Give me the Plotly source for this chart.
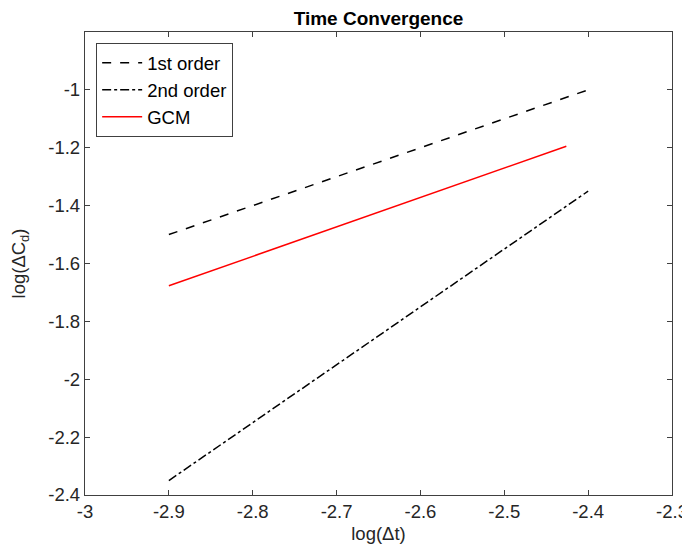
import plotly.graph_objects as go

first_x = [-2.9, -2.4]
first_y = [-1.5, -1.0]
second_x = [-2.9, -2.4]
second_y = [-2.35, -1.35]
gcm_x = [-2.9, -2.426]
gcm_y = [-1.677, -1.195]

x_ticks = [-3, -2.9, -2.8, -2.7, -2.6, -2.5, -2.4, -2.3]
x_labels = ["-3", "-2.9", "-2.8", "-2.7", "-2.6", "-2.5", "-2.4", "-2.3"]
y_ticks = [-2.4, -2.2, -2.0, -1.8, -1.6, -1.4, -1.2, -1.0]
y_labels = ["-2.4", "-2.2", "-2", "-1.8", "-1.6", "-1.4", "-1.2", "-1"]

font = "Liberation Sans, Arial, Helvetica, sans-serif"
axcol = "#262626"
fs = 18.5

fig = go.Figure()
fig.add_trace(go.Scatter(x=first_x, y=first_y, mode="lines", name="1st order",
                         line=dict(color="black", width=1.5, dash="dash")))
fig.add_trace(go.Scatter(x=second_x, y=second_y, mode="lines", name="2nd order",
                         line=dict(color="black", width=1.5, dash="dashdot")))
fig.add_trace(go.Scatter(x=gcm_x, y=gcm_y, mode="lines", name="GCM",
                         line=dict(color="#ff0000", width=1.5)))

axis_common = dict(showgrid=False, zeroline=False, showline=True, linecolor="#404040",
                   linewidth=1.3, mirror="ticks", ticks="inside", ticklen=5,
                   tickcolor="#404040", tickfont=dict(size=fs, color=axcol, family=font))

W, H = 682, 540  # page body has an 8px margin

fig.update_layout(
    width=W, height=H,
    margin=dict(l=77, r=18, t=24, b=53, autoexpand=False),
    paper_bgcolor="white", plot_bgcolor="white",
    font=dict(family=font, color=axcol),
    title=dict(text="<b>Time Convergence</b>", x=0.5, xanchor="center",
               xref="paper", y=1 - 10 / H, yref="container", yanchor="middle",
               font=dict(size=19, color="black", family=font)),
    xaxis=dict(range=[-3, -2.3], tickvals=x_ticks, ticktext=x_labels, automargin=False,
               title=dict(text="log(Δt)", font=dict(size=fs, color=axcol, family=font), standoff=5),
               **axis_common),
    yaxis=dict(range=[-2.4, -0.8], tickvals=y_ticks, ticktext=y_labels, automargin=False,
               title=dict(text="log(ΔC<sub>d</sub>)", font=dict(size=fs, color=axcol, family=font), standoff=19),
               **axis_common),
    legend=dict(x=0.019, y=0.976, xanchor="left", yanchor="top",
                bgcolor="white", bordercolor="#404040", borderwidth=1,
                font=dict(size=fs, color="black", family=font),
                tracegroupgap=0, itemwidth=40),
    showlegend=True,
)

fig.write_html("out.html")
